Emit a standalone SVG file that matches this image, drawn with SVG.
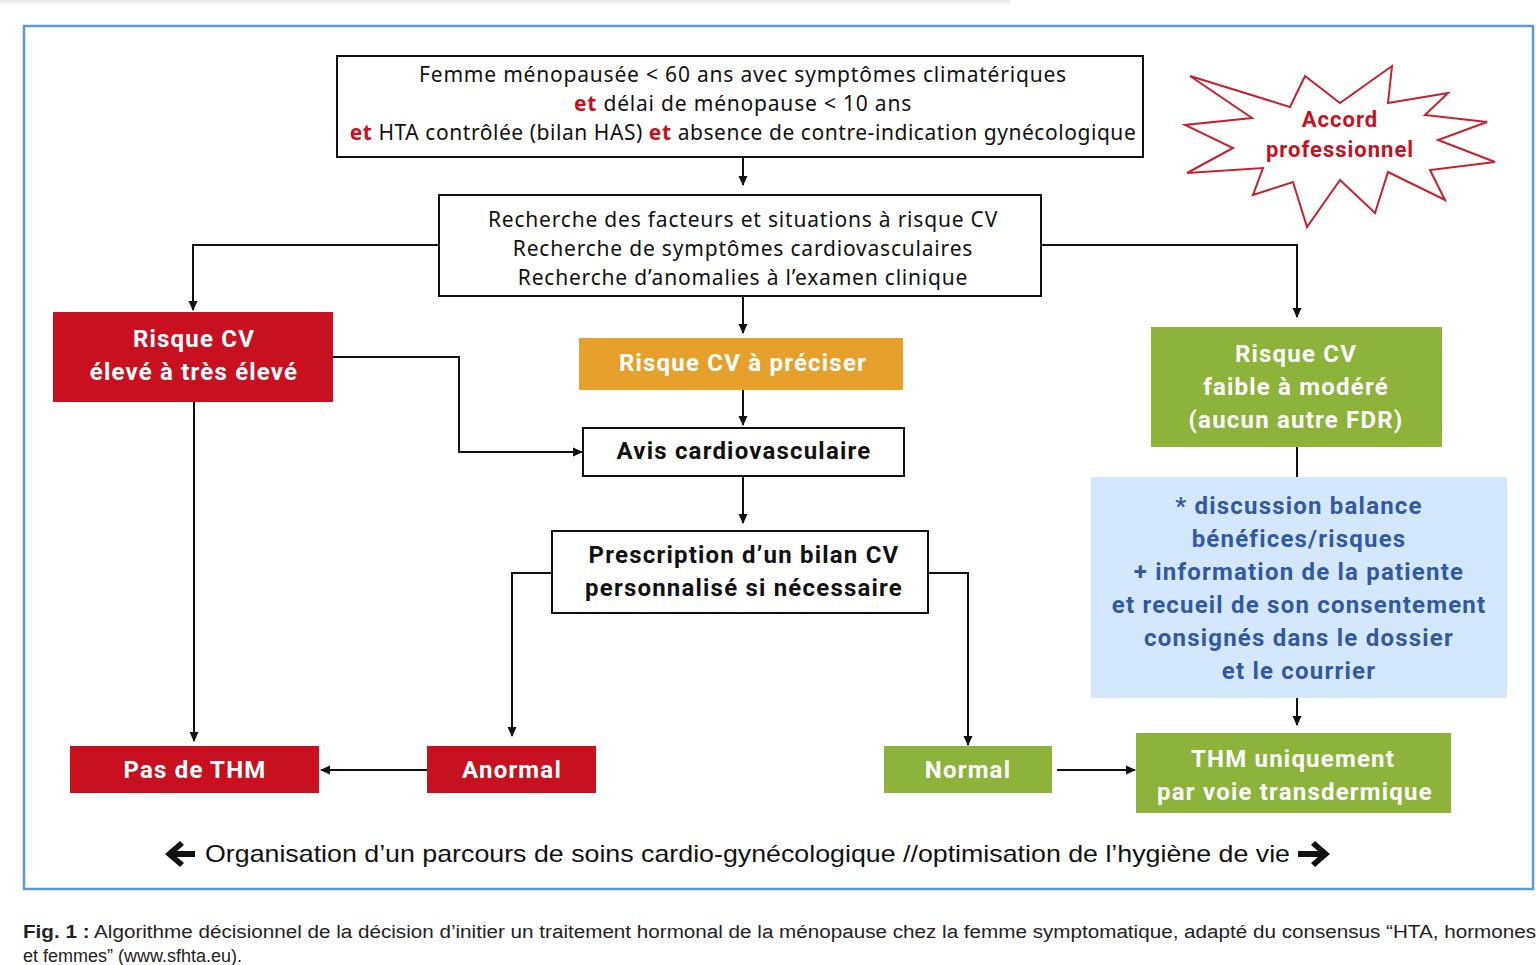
<svg xmlns="http://www.w3.org/2000/svg" width="1536" height="965" viewBox="0 0 1536 965">
<defs>
<marker id="ah" markerWidth="10" markerHeight="10" refX="9" refY="5" orient="auto" markerUnits="userSpaceOnUse">
<path d="M0,0.5 L10,5 L0,9.5 z" fill="#111"/>
</marker>
<linearGradient id="sh" x1="0" y1="0" x2="0" y2="1">
<stop offset="0" stop-color="#e6e6e6"/><stop offset="1" stop-color="#ffffff"/>
</linearGradient>
<style>
.box{fill:#fff;stroke:#111;stroke-width:2}
.t{font-family:"Noto Sans","Liberation Sans",sans-serif;font-size:21px;letter-spacing:0.8px;fill:#111;text-anchor:middle}
.b{font-family:"Roboto","Liberation Sans",sans-serif;font-weight:bold;font-size:24px;letter-spacing:1.2px;text-anchor:middle}
.w{fill:#fff}
.k{fill:#111}
.bl{fill:#2f5aa6}
.red{fill:#c8101e}
.grn{fill:#8db33a}
.org{fill:#e5a12b}
.conn{fill:none;stroke:#111;stroke-width:2}
.et{fill:#c8101e;font-weight:bold}
</style>
</defs>
<rect width="1536" height="965" fill="#fff"/>
<rect x="0" y="0" width="1010" height="6" fill="url(#sh)"/>
<rect x="24" y="26" width="1509" height="863" fill="none" stroke="#5b9bd5" stroke-width="2.5"/>

<g id="connectors">
<path class="conn" d="M743,157 V185" marker-end="url(#ah)"/>
<path class="conn" d="M439,245 H193 V310" marker-end="url(#ah)"/>
<path class="conn" d="M1041,245 H1297 V317" marker-end="url(#ah)"/>
<path class="conn" d="M743,296 V333" marker-end="url(#ah)"/>
<path class="conn" d="M743,390 V425" marker-end="url(#ah)"/>
<path class="conn" d="M333,357 H459 V452 H582" marker-end="url(#ah)"/>
<path class="conn" d="M743,476 V523" marker-end="url(#ah)"/>
<path class="conn" d="M552,573 H512 V736" marker-end="url(#ah)"/>
<path class="conn" d="M928,573 H968 V745" marker-end="url(#ah)"/>
<path class="conn" d="M194,402 V741" marker-end="url(#ah)"/>
<path class="conn" d="M427,770 H321" marker-end="url(#ah)"/>
<path class="conn" d="M1057,770 H1135" marker-end="url(#ah)"/>
<path class="conn" d="M1297,447 V477"/>
<path class="conn" d="M1297,698 V725" marker-end="url(#ah)"/>
</g>

<g id="n-start">
<rect class="box" x="337" y="56" width="806" height="101"/>
<text class="t" x="743" y="82">Femme ménopausée &lt; 60 ans avec symptômes climatériques</text>
<text class="t" x="743" y="111"><tspan class="et">et</tspan> délai de ménopause &lt; 10 ans</text>
<text class="t" x="743" y="140" style="letter-spacing:0.55px"><tspan class="et">et</tspan> HTA contrôlée (bilan HAS) <tspan class="et">et</tspan> absence de contre-indication gynécologique</text>
</g>

<g id="n-recherche">
<rect class="box" x="439" y="195" width="602" height="101"/>
<text class="t" x="743" y="227">Recherche des facteurs et situations à risque CV</text>
<text class="t" x="743" y="256">Recherche de symptômes cardiovasculaires</text>
<text class="t" x="743" y="285">Recherche d’anomalies à l’examen clinique</text>
</g>

<g id="n-eleve">
<rect class="red" x="53" y="312" width="280" height="90"/>
<text class="b w" x="194" y="347">Risque CV</text>
<text class="b w" x="194" y="380">élevé à très élevé</text>
</g>

<g id="n-preciser">
<rect class="org" x="579" y="338" width="324" height="52"/>
<text class="b w" x="743" y="371">Risque CV à préciser</text>
</g>

<g id="n-faible">
<rect class="grn" x="1151" y="327" width="291" height="120"/>
<text class="b w" x="1296" y="362">Risque CV</text>
<text class="b w" x="1296" y="395">faible à modéré</text>
<text class="b w" x="1296" y="428">(aucun autre FDR)</text>
</g>

<g id="n-avis">
<rect class="box" x="583" y="428" width="321" height="48"/>
<text class="b k" x="744" y="459">Avis cardiovasculaire</text>
</g>

<g id="n-prescription">
<rect class="box" x="552" y="531" width="376" height="82"/>
<text class="b k" x="744" y="563">Prescription d’un bilan CV</text>
<text class="b k" x="744" y="596">personnalisé si nécessaire</text>
</g>

<g id="n-discussion">
<rect x="1091" y="477" width="416" height="221" fill="#d5e7fa"/>
<text class="b bl" x="1299" y="514">* discussion balance</text>
<text class="b bl" x="1299" y="547">bénéfices/risques</text>
<text class="b bl" x="1299" y="580">+ information de la patiente</text>
<text class="b bl" x="1299" y="613">et recueil de son consentement</text>
<text class="b bl" x="1299" y="646">consignés dans le dossier</text>
<text class="b bl" x="1299" y="679">et le courrier</text>
</g>

<g id="n-pasthm">
<rect class="red" x="70" y="746" width="249" height="47"/>
<text class="b w" x="195" y="778">Pas de THM</text>
</g>

<g id="n-anormal">
<rect class="red" x="427" y="746" width="169" height="47"/>
<text class="b w" x="512" y="778">Anormal</text>
</g>

<g id="n-normal">
<rect class="grn" x="884" y="746" width="168" height="47"/>
<text class="b w" x="968" y="778">Normal</text>
</g>

<g id="n-thm">
<rect class="grn" x="1136" y="733" width="315" height="80"/>
<text class="b w" x="1293" y="767">THM  uniquement</text>
<text class="b w" x="1295" y="800">par voie transdermique</text>
</g>

<g id="accord">
<polygon points="1190,76 1290,107 1305,76 1340,103 1392,66 1388,103 1448,93 1425,115 1487,122 1438,140 1495,162 1430,170 1445,200 1388,172 1375,213 1340,180 1307,227 1293,182 1253,195 1263,168 1187,173 1233,148 1185,125 1252,118" fill="#fff" stroke="#c8202e" stroke-width="2"/>
<text class="b" x="1340" y="127" style="fill:#c8101e;font-size:22px;letter-spacing:1px">Accord</text>
<text class="b" x="1340" y="157" style="fill:#c8101e;font-size:22px;letter-spacing:1px">professionnel</text>
</g>

<g id="parcours">
<path d="M165,854 L180,841 L184,845 L177,851 H195 V857 H177 L184,863 L180,867 z" fill="#111"/>
<text x="205" y="862" textLength="1085" lengthAdjust="spacingAndGlyphs" style="font-family:'Liberation Sans',sans-serif;font-size:24px;fill:#111">Organisation d’un parcours de soins cardio-gynécologique //optimisation de l’hygiène de vie</text>
<path d="M1330,854 L1315,841 L1311,845 L1318,851 H1298 V857 H1318 L1311,863 L1315,867 z" fill="#111"/>
</g>

<g id="caption" style="font-family:'Liberation Sans',sans-serif;font-size:18px;fill:#222">
<text x="23" y="938" textLength="1513" lengthAdjust="spacingAndGlyphs"><tspan font-weight="bold">Fig. 1 :</tspan> Algorithme décisionnel de la décision d’initier un traitement hormonal de la ménopause chez la femme symptomatique, adapté du consensus “HTA, hormones</text>
<text x="23" y="962">et femmes” (www.sfhta.eu).</text>
</g>
</svg>
